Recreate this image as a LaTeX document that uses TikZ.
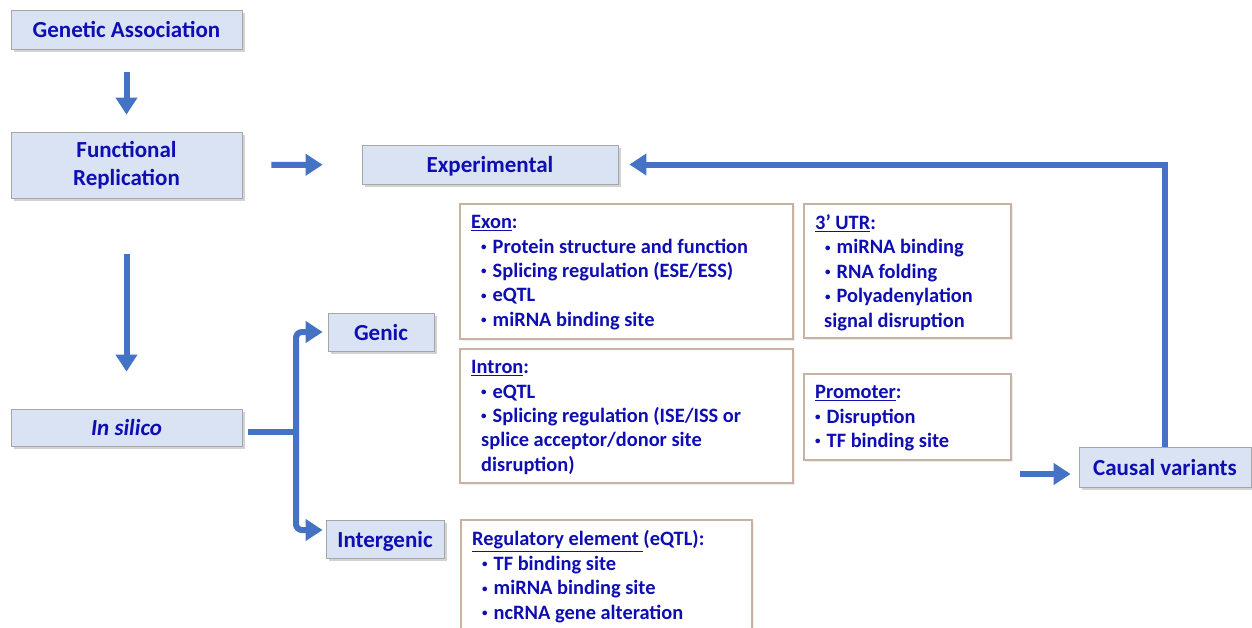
\documentclass[tikz,border=0pt]{standalone}
\usepackage{fontspec}
\setmainfont{Carlito}
\usetikzlibrary{arrows.meta,shadows}
\definecolor{boxfill}{HTML}{DAE3F3}
\definecolor{boxline}{HTML}{A6A6A6}
\definecolor{txt}{RGB}{14,14,178}
\definecolor{arr}{HTML}{4472C4}
\definecolor{tanline}{HTML}{C9B2A3}
\newcommand{\bul}{\raisebox{2.6pt}{\fontsize{11}{11}\selectfont•}\hspace{6pt}}
\begin{document}
\begin{tikzpicture}[x=1pt,y=-1pt,
  bluebox/.style={draw=boxline, line width=0.8pt, fill=boxfill,
    drop shadow={opacity=0.35, shadow xshift=2.5pt, shadow yshift=-3pt},
    text=txt, font=\fontsize{23}{28}\selectfont\bfseries, align=center, inner sep=0pt},
  oneline/.style={bluebox, text height=19pt, text depth=3pt},
  infobox/.style={draw=tanline, line width=2pt, fill=white,
    drop shadow={opacity=0.15, shadow xshift=1.5pt, shadow yshift=-1.5pt}, inner sep=0pt},
  info/.style={anchor=north west, inner sep=0pt, text=txt, align=left,
    font=\fontsize{20.4}{24.4}\selectfont\bfseries},
  barrow/.style={draw=arr, line width=6pt, line join=miter, -{Triangle[length=17pt,width=21pt]}},
  bline/.style={draw=arr, line width=6pt},
]
\useasboundingbox (0,0) rectangle (1252,627);
\clip (0,0) rectangle (1252,627);

% blue boxes
\node[oneline, minimum width=231pt, minimum height=39pt] (ga) at (126.5,29.5) {Genetic Association};
\node[bluebox, minimum width=231pt, minimum height=66pt] (fr) at (126.5,165) {Functional\\Replication};
\node[oneline, minimum width=256pt, minimum height=39pt] (exp) at (490,164.5) {Experimental};
\node[oneline, minimum width=231pt, minimum height=37pt] (ins) at (126.5,427.5) {\itshape In silico};
\node[oneline, minimum width=106pt, minimum height=38pt] (gen) at (381,332) {Genic};
\node[oneline, minimum width=118pt, minimum height=38pt] (ig) at (385,539) {Intergenic};
\node[oneline, minimum width=172pt, minimum height=40pt] (cv) at (1165,467) {Causal variants};

% info boxes
\node[infobox, minimum width=333pt, minimum height=135pt] (exon) at (626.5,271.5) {};
\node[infobox, minimum width=207pt, minimum height=134pt] (utr) at (907.5,271) {};
\node[infobox, minimum width=333pt, minimum height=134pt] (intron) at (626.5,416) {};
\node[infobox, minimum width=207pt, minimum height=86pt] (prom) at (907.5,417) {};
\node[infobox, minimum width=291pt, minimum height=140pt] (reg) at (606.5,590) {};

\node[info] (exont) at (471,214.5) {\rule{0pt}{14pt}\underline{Exon}:\\
\hspace*{10pt}\bul Protein structure and function\\
\hspace*{10pt}\bul Splicing regulation (ESE/ESS)\\
\hspace*{10pt}\bul eQTL\\
\hspace*{10pt}\bul miRNA binding site};

\node[info] (utrt) at (815,214.5) {\rule{0pt}{14pt}\underline{3’ UTR}:\\
\hspace*{10pt}\bul miRNA binding\\
\hspace*{10pt}\bul RNA folding\\
\hspace*{10pt}\bul Polyadenylation\\
\hspace*{9pt}signal disruption};

\node[info] (intront) at (471,359.5) {\rule{0pt}{14pt}\underline{Intron}:\\
\hspace*{10pt}\bul eQTL\\
\hspace*{10pt}\bul Splicing regulation (ISE/ISS or\\
\hspace*{10pt}splice acceptor/donor site\\
\hspace*{10pt}disruption)};

\node[info] (promt) at (815,384.5) {\rule{0pt}{14pt}\underline{Promoter}:\\
\bul Disruption\\
\bul TF binding site};

\node[info] (regt) at (472,530.5) {\rule{0pt}{14pt}\underline{Regulatory element }(eQTL):\\
\hspace*{10pt}\bul TF binding site\\
\hspace*{10pt}\bul miRNA binding site\\
\hspace*{10pt}\bul ncRNA gene alteration};

% connectors
\draw[barrow, shorten <=23pt, shorten >=17pt] (ga) -- (fr);
\draw[barrow, shorten <=29pt, shorten >=39pt] (fr) -- (exp);
\draw[barrow, shorten <=56pt, shorten >=37pt] (fr) -- (ins);
\draw[barrow, shorten >=11pt] (cv.north) |- (exp.east);
\coordinate (ca) at (1020,474);
\draw[barrow, shorten >=8pt] (ca) -- (ca -| cv.west);

\coordinate (bs) at (248,432);
\coordinate (bj) at (296,432);
\draw[bline] (bs) -- (bj);
\draw[barrow, rounded corners=6pt, shorten >=5pt] (bj) |- (gen.west);
\draw[barrow, rounded corners=6pt, shorten >=3pt] (bj) |- ([yshift=9pt]ig.west);
\end{tikzpicture}
\end{document}
